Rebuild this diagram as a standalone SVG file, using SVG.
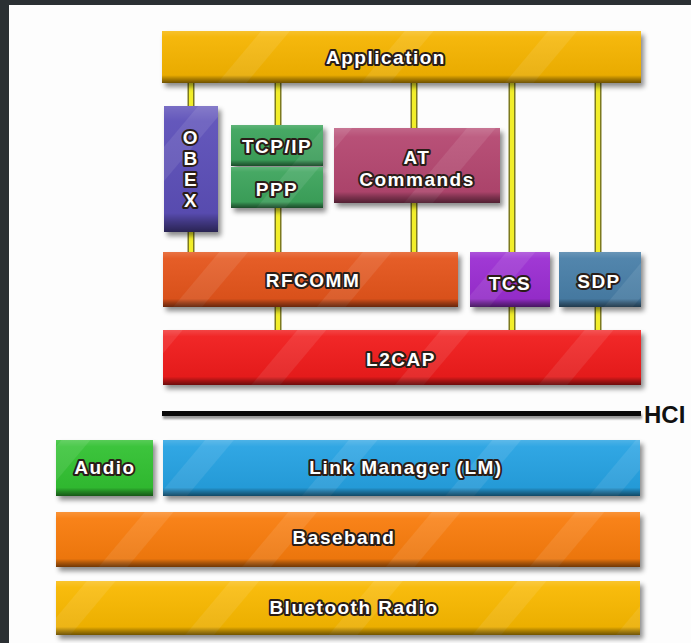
<svg xmlns="http://www.w3.org/2000/svg" width="691" height="643" viewBox="0 0 691 643">
<style>
.lbl{font-family:"Liberation Sans",Arial,sans-serif;font-weight:bold;font-size:19px;fill:#fff;stroke:#2a1d18;stroke-width:4;stroke-linejoin:round;paint-order:stroke;text-anchor:middle;dominant-baseline:central;letter-spacing:1.5px}
.shade{fill:url(#shade)}
.stripe{fill:url(#stripes)}
.cout{stroke:#7d7a1e;stroke-width:7;fill:none}
.cin{stroke:#f2ee2a;stroke-width:4;fill:none}
</style>
<defs>
<linearGradient id="shade" x1="0" y1="0" x2="0" y2="1">
<stop offset="0" stop-color="#fff" stop-opacity="0.18"/>
<stop offset="0.12" stop-color="#fff" stop-opacity="0.05"/>
<stop offset="0.85" stop-color="#000" stop-opacity="0.05"/>
<stop offset="0.92" stop-color="#000" stop-opacity="0.3"/>
<stop offset="1" stop-color="#000" stop-opacity="0.55"/>
</linearGradient>
<pattern id="stripes" width="110" height="110" patternUnits="userSpaceOnUse" patternTransform="rotate(-50)">
<rect x="0" y="0" width="110" height="22" fill="#fff" fill-opacity="0.09"/>
</pattern>
<filter id="ds" x="-10%" y="-20%" width="125%" height="160%">
<feDropShadow dx="3" dy="4" stdDeviation="2.5" flood-color="#000" flood-opacity="0.45"/>
</filter>
<filter id="soft" x="-5%" y="-100%" width="110%" height="300%">
<feGaussianBlur stdDeviation="1.2"/>
</filter>
</defs>
<rect x="0" y="0" width="691" height="643" fill="#fdfdfd"/>
<rect x="0" y="0" width="691" height="5" fill="#2b3033"/>
<rect x="0" y="0" width="9" height="643" fill="#2b3033"/>

<g id="connectors">
<path class="cout" d="M191 80V110M191 228V254M278 80V127M278 206V254M278 305V332M414 80V130M414 201V254M512 80V254M512 305V332M598 80V254M598 305V332"/>
<path class="cin" d="M191 80V110M191 228V254M278 80V127M278 206V254M278 305V332M414 80V130M414 201V254M512 80V254M512 305V332M598 80V254M598 305V332"/>
</g>

<g id="application">
<rect x="162" y="31" width="479" height="52" fill="#f5b400" filter="url(#ds)"/>
<rect x="162" y="31" width="479" height="52" class="stripe"/>
<rect x="162" y="31" width="479" height="52" class="shade"/>
<text class="lbl" x="386" y="57" font-size="20">Application</text>
</g>

<g id="obex">
<rect x="164" y="106" width="54" height="126" fill="#5b4fb8" filter="url(#ds)"/>
<rect x="164" y="106" width="54" height="126" class="stripe"/>
<rect x="164" y="106" width="54" height="126" class="shade"/>
<text class="lbl" x="191" y="137" font-size="20" letter-spacing="0">O</text>
<text class="lbl" x="191" y="158" font-size="20" letter-spacing="0">B</text>
<text class="lbl" x="191" y="179" font-size="20" letter-spacing="0">E</text>
<text class="lbl" x="191" y="200" font-size="20" letter-spacing="0">X</text>
</g>

<g id="tcpip">
<rect x="231" y="125" width="92" height="41" fill="#3da45c" filter="url(#ds)"/>
<rect x="231" y="125" width="92" height="41" class="stripe"/>
<rect x="231" y="125" width="92" height="41" class="shade"/>
<text class="lbl" x="277" y="146">TCP/IP</text>
</g>

<g id="ppp">
<rect x="231" y="167" width="92" height="41" fill="#3da45c" filter="url(#ds)"/>
<rect x="231" y="167" width="92" height="41" class="stripe"/>
<rect x="231" y="167" width="92" height="41" class="shade"/>
<text class="lbl" x="277" y="189">PPP</text>
</g>

<g id="at-commands">
<rect x="334" y="128" width="166" height="75" fill="#b4476f" filter="url(#ds)"/>
<rect x="334" y="128" width="166" height="75" class="stripe"/>
<rect x="334" y="128" width="166" height="75" class="shade"/>
<text class="lbl" x="417" y="157">AT</text>
<text class="lbl" x="417" y="179">Commands</text>
</g>

<g id="rfcomm">
<rect x="163" y="252" width="295" height="55" fill="#e4541e" filter="url(#ds)"/>
<rect x="163" y="252" width="295" height="55" class="stripe"/>
<rect x="163" y="252" width="295" height="55" class="shade"/>
<text class="lbl" x="313" y="280">RFCOMM</text>
</g>

<g id="tcs">
<rect x="470" y="252" width="80" height="55" fill="#9b2fd2" filter="url(#ds)"/>
<rect x="470" y="252" width="80" height="55" class="stripe"/>
<rect x="470" y="252" width="80" height="55" class="shade"/>
<text class="lbl" x="510" y="283">TCS</text>
</g>

<g id="sdp">
<rect x="559" y="252" width="82" height="55" fill="#4a7fa8" filter="url(#ds)"/>
<rect x="559" y="252" width="82" height="55" class="stripe"/>
<rect x="559" y="252" width="82" height="55" class="shade"/>
<text class="lbl" x="599" y="281">SDP</text>
</g>

<g id="l2cap">
<rect x="163" y="330" width="478" height="55" fill="#f01a1a" filter="url(#ds)"/>
<rect x="163" y="330" width="478" height="55" class="stripe"/>
<rect x="163" y="330" width="478" height="55" class="shade"/>
<text class="lbl" x="401" y="359">L2CAP</text>
</g>

<g id="hci">
<rect x="163" y="414" width="479" height="5" fill="#999" filter="url(#soft)"/>
<rect x="162" y="411" width="479" height="5" fill="#0a0a0a"/>
<text x="644" y="423" font-family="'Liberation Sans',Arial,sans-serif" font-weight="bold" font-size="24" fill="#111">HCI</text>
</g>

<g id="audio">
<rect x="56" y="440" width="97" height="56" fill="#33c133" filter="url(#ds)"/>
<rect x="56" y="440" width="97" height="56" class="stripe"/>
<rect x="56" y="440" width="97" height="56" class="shade"/>
<text class="lbl" x="105" y="467">Audio</text>
</g>

<g id="link-manager">
<rect x="163" y="440" width="477" height="56" fill="#27a2e2" filter="url(#ds)"/>
<rect x="163" y="440" width="477" height="56" class="stripe"/>
<rect x="163" y="440" width="477" height="56" class="shade"/>
<text class="lbl" x="406" y="467">Link Manager (LM)</text>
</g>

<g id="baseband">
<rect x="56" y="512" width="584" height="55" fill="#f87c0c" filter="url(#ds)"/>
<rect x="56" y="512" width="584" height="55" class="stripe"/>
<rect x="56" y="512" width="584" height="55" class="shade"/>
<text class="lbl" x="344" y="537">Baseband</text>
</g>

<g id="bluetooth-radio">
<rect x="56" y="581" width="584" height="54" fill="#f8b800" filter="url(#ds)"/>
<rect x="56" y="581" width="584" height="54" class="stripe"/>
<rect x="56" y="581" width="584" height="54" class="shade"/>
<text class="lbl" x="354" y="607">Bluetooth Radio</text>
</g>
</svg>
